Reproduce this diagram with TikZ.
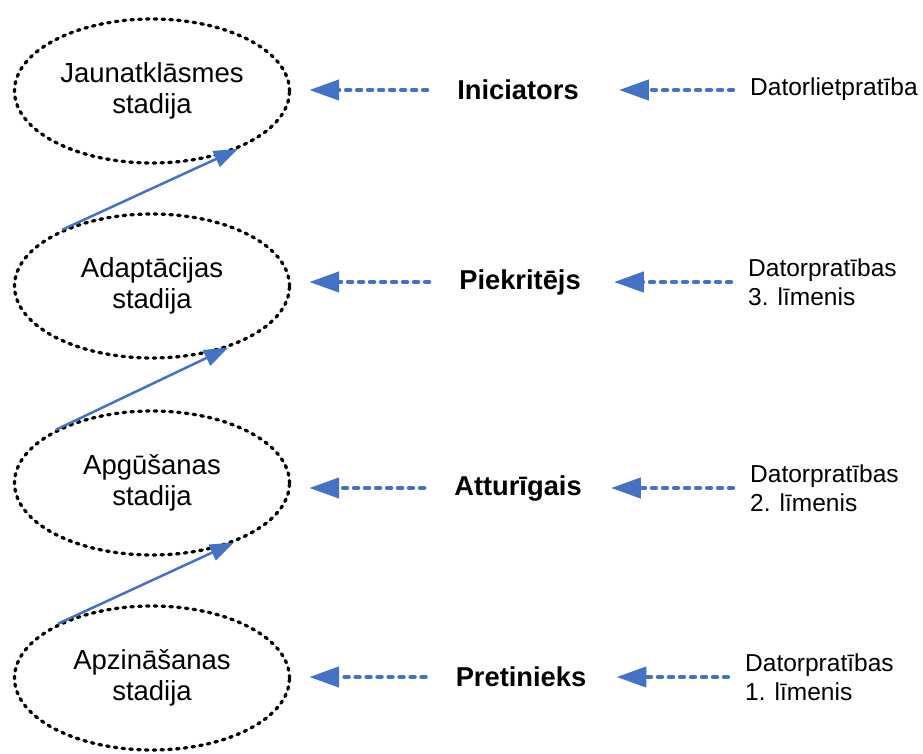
\documentclass[tikz,border=0pt]{standalone}
\usepackage{fontspec}
\setmainfont{Liberation Sans}
\usetikzlibrary{shapes.geometric,arrows.meta,calc}
\definecolor{linkblue}{HTML}{4472C4}
\begin{document}
\begin{tikzpicture}[x=1pt,y=-1pt,
  stage/.style={ellipse, draw=black, line width=3.3pt,
    dash pattern=on 2.5pt off 5.3pt, line cap=round,
    minimum width=275pt, minimum height=144pt, inner sep=0pt,
    align=center, font=\fontsize{27.5}{30.5}\selectfont},
  role/.style={inner sep=0pt, font=\fontsize{27.3}{30}\selectfont\bfseries},
  skill/.style={anchor=west, align=left, inner sep=0pt,
    font=\fontsize{24.5}{29}\selectfont},
  dotarrow/.style={draw=linkblue, line width=4.4pt,
    dash pattern=on 4pt off 7pt, line cap=round,
    -{Triangle[length=30pt,width=20pt]}},
  risearrow/.style={draw=linkblue, line width=2.5pt,
    -{Triangle[length=24pt,width=17pt]}}]
\useasboundingbox (0,0) rectangle (923,753);

% stages of adoption
\node[stage] (e1) at (152,91)  {Jaunatklāsmes\\stadija};
\node[stage] (e2) at (152,286) {Adaptācijas\\stadija};
\node[stage] (e3) at (152,483) {Apgūšanas\\stadija};
\node[stage] (e4) at (152,678) {Apzināšanas\\stadija};

% user roles
\node[role] (r1) at (518,90)  {Iniciators};
\node[role] (r2) at (520,282) {Piekritējs};
\node[role] (r3) at (518,488) {Atturīgais};
\node[role] (r4) at (521,677) {Pretinieks};

% computer skill levels
\node[skill] (s1) at (750,89)  {Datorlietpratība};
\node[skill] (s2) at (748,282) {Datorpratības\\3. līmenis};
\node[skill] (s3) at (750,488) {Datorpratības\\2. līmenis};
\node[skill] (s4) at (745,677) {Datorpratības\\1. līmenis};

% progression between stages
\draw[risearrow] (e2.148) -- (e1.-34);
\draw[risearrow] (e3.151) -- (e2.-39);
\draw[risearrow] (e4.150) -- (e3.-36);

% role -> stage and skill -> role, kept level with the role
\foreach \k/\gap in {1/40,2/33,3/29,4/30}{
  \draw[dotarrow] ([xshift=-30pt]r\k.west) -- ($(e\k.east |- r\k.west)+(18,0)$);
  \draw[dotarrow] ($(s\k.west |- r\k.west)+(-17,0)$) -- ([xshift=\gap pt]r\k.east);
}
\end{tikzpicture}
\end{document}
